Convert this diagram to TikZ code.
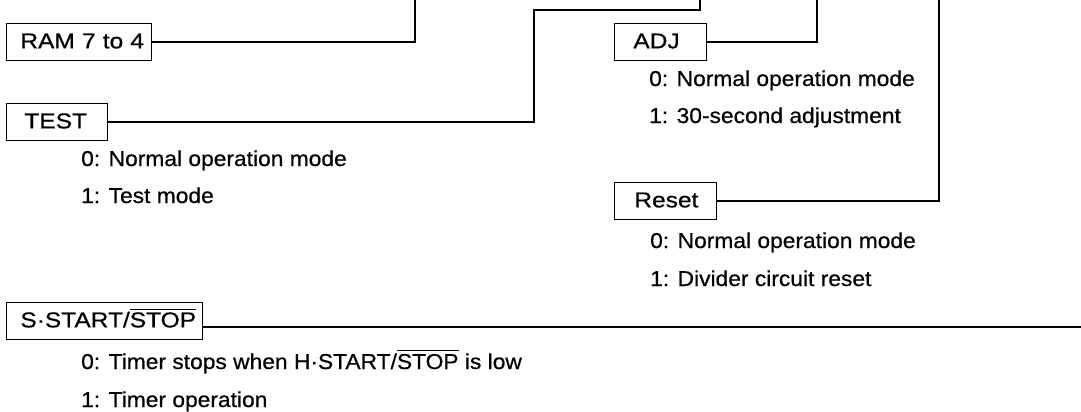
\documentclass[tikz,border=0pt]{standalone}
\usepackage{fontspec}
\setmainfont{Liberation Sans}
\newfontfamily\boxfamily[FakeStretch=1.14,FakeBold=0.6]{Liberation Sans}
\newfontfamily\descfamily[FakeStretch=1.06,FakeBold=0.6]{Liberation Sans}
\newcommand\boxfnt{\boxfamily\fontsize{21.5}{25}\selectfont}
\newcommand\descfnt{\descfamily\fontsize{21.5}{25}\selectfont}
\newsavebox\ovsave
\newcommand\ovbar[1]{\sbox\ovsave{#1}\rlap{\rule[\dimexpr\ht\ovsave+2.8pt\relax]{\wd\ovsave}{0.9pt}}\usebox\ovsave}
\tikzset{
  lbl/.style 2 args={draw, line width=0.8pt, anchor=north west, minimum height=37pt,
    inner xsep=0pt, inner ysep=0pt, font=\boxfnt, text height=15.4pt, text depth=2.5pt,
    text width=#1, align=left, execute at begin node={\hspace*{#2}}},
  wire/.style={line width=1.3pt},
  desc/.style={anchor=base west, inner sep=0pt, font=\descfnt}
}
\begin{document}
\begin{tikzpicture}[x=1pt, y=-1pt]
\useasboundingbox (0,0) rectangle (1081,412);
% boxes
\node[lbl={145pt}{14pt}] (ram) at (6,23) {RAM 7 to 4};
\node[lbl={101pt}{18pt}] (test) at (6,103) {TEST};
\node[lbl={92pt}{19pt}] (adj) at (614,23) {ADJ};
\node[lbl={102pt}{20pt}] (reset) at (614,182) {Reset};
\node[lbl={196pt}{14pt}] (ss) at (6,302) {S·START/\ovbar{STOP}};
% free ends
\coordinate (ramtop) at (415,0);
\coordinate (adjtop) at (817,0);
\coordinate (testbend) at (534,10);
\coordinate (testtop) at (700,0);
\coordinate (resettop) at (939,0);
\coordinate (ssend) at (1081,327);
% connectors
\draw[wire] (ram.east) -| (ramtop);
\draw[wire] (adj.east) -| (adjtop);
\draw[wire] (test.east) -| (testbend) -| (testtop);
\draw[wire] (reset.east) -| (resettop);
\draw[wire] (ss.east |- ssend) -- (ssend);
% descriptions
\node[desc] (t0) at (81,166) {0: Normal operation mode};
\node[desc] (t1) at (81,203) {1: Test mode};
\node[desc] (a0) at (649,86) {0: Normal operation mode};
\node[desc] (a1) at (649,123) {1: 30-second adjustment};
\node[desc] (r0) at (650,248) {0: Normal operation mode};
\node[desc] (r1) at (650,286) {1: Divider circuit reset};
\node[desc] (s0) at (81,369) {0: Timer stops when H·START/\ovbar{STOP} is low};
\node[desc] (s1) at (81,407) {1: Timer operation};
\end{tikzpicture}
\end{document}
